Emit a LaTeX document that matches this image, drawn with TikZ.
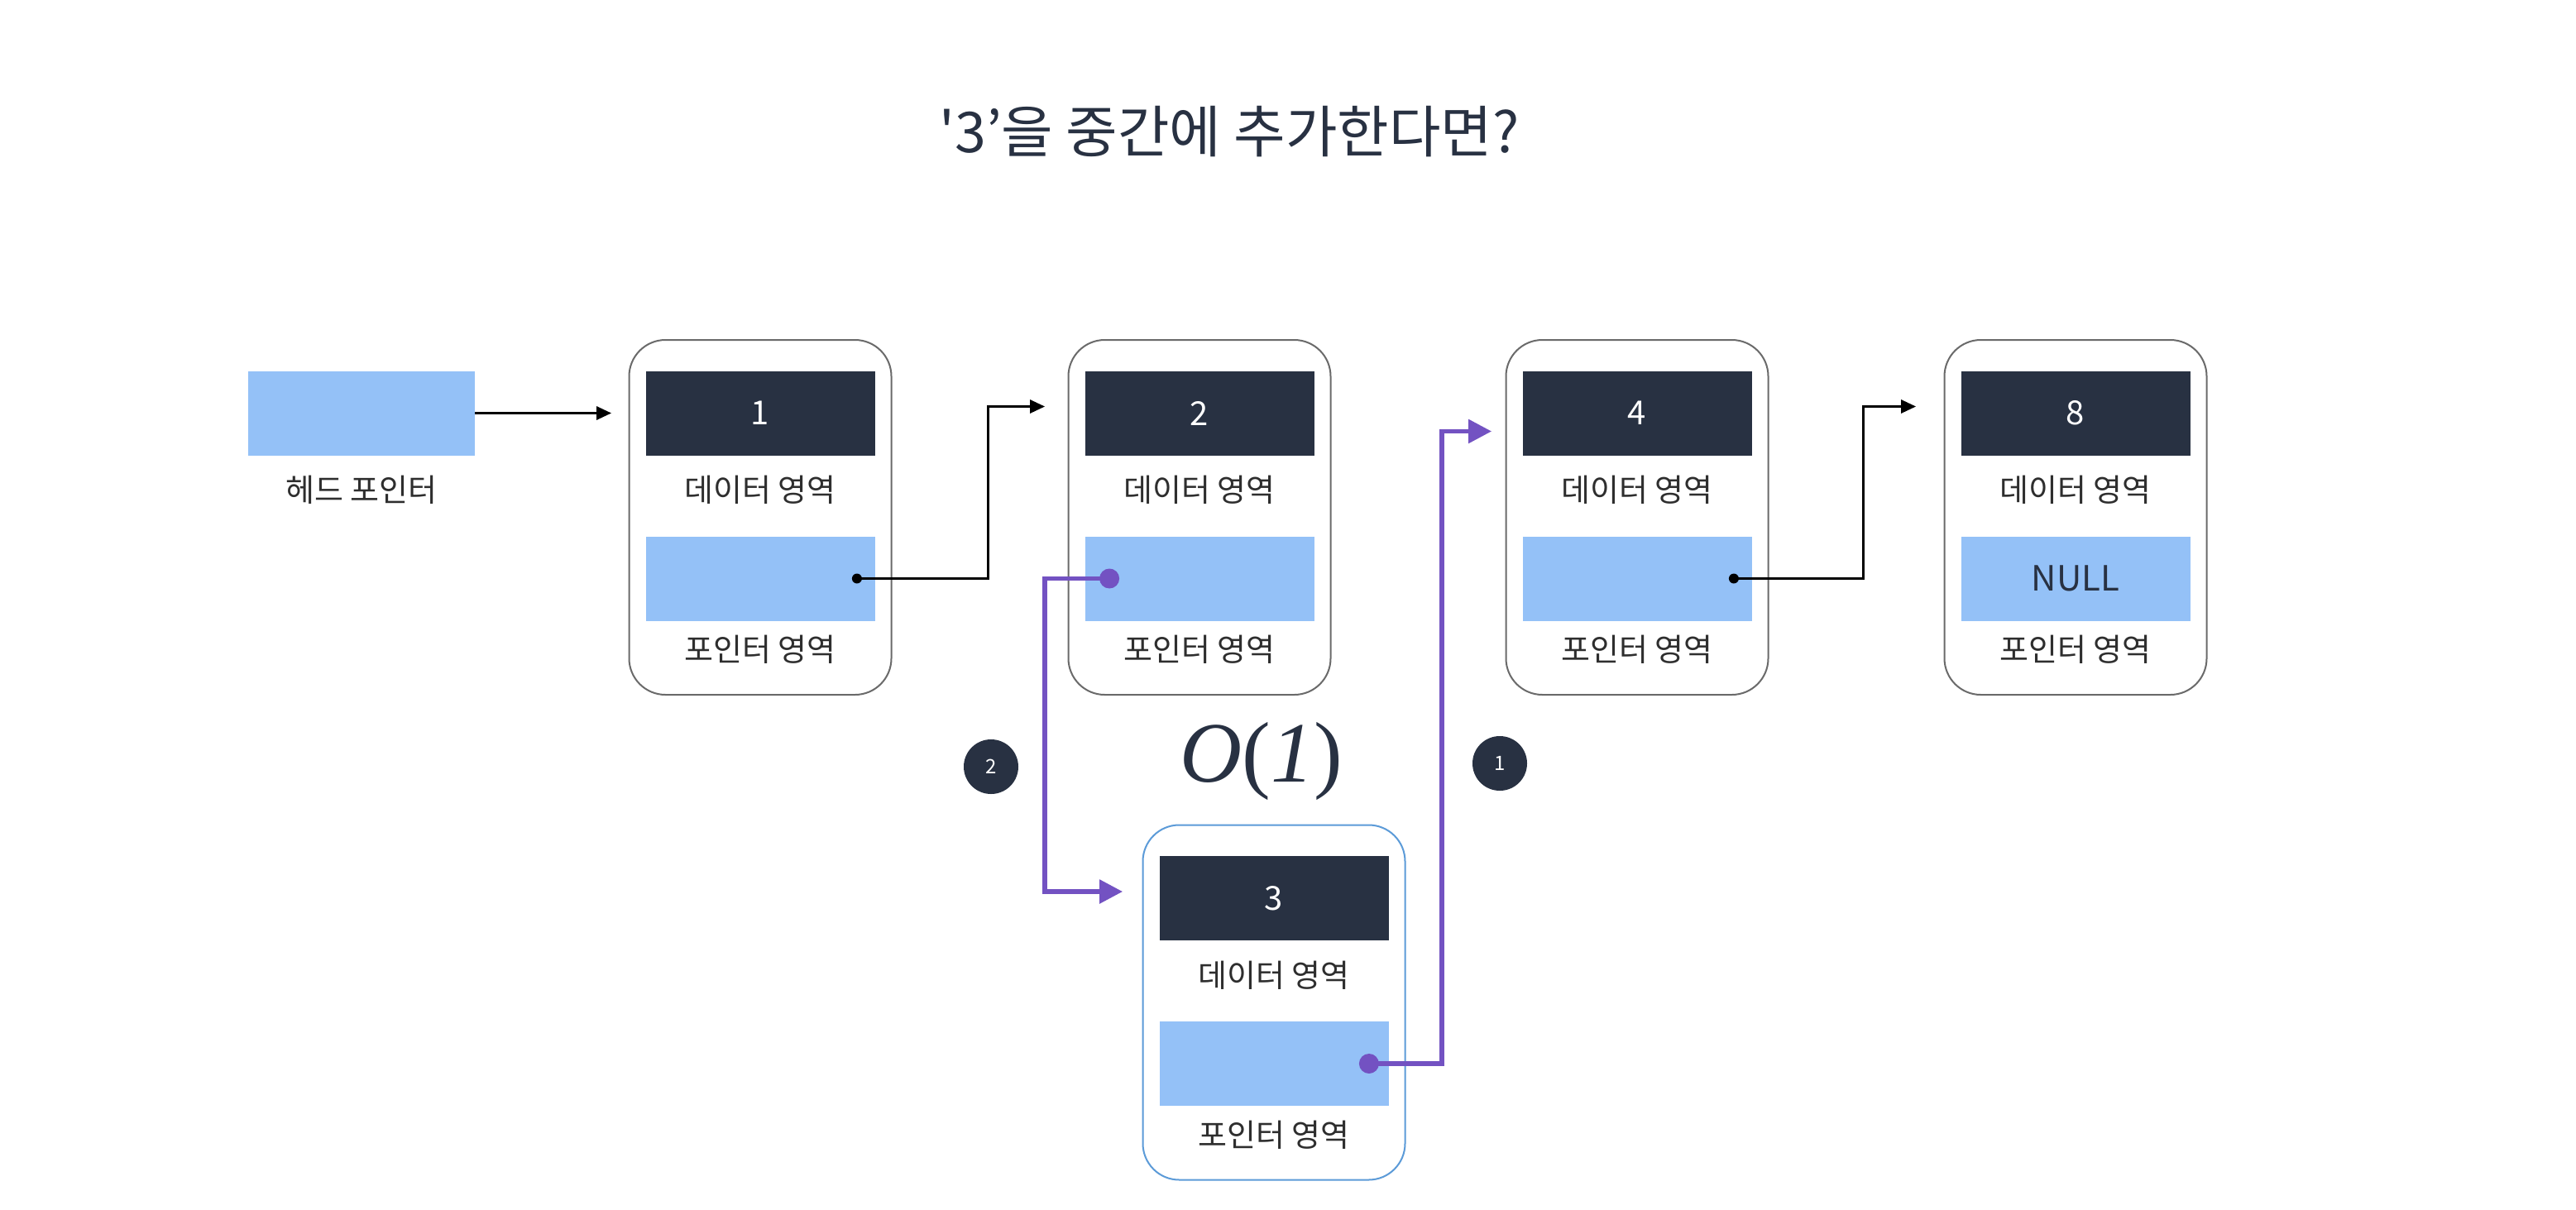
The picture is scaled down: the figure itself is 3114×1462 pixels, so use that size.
\documentclass[tikz,border=0pt]{standalone}
\usepackage{fontspec}
\setmainfont{Noto Sans CJK KR}
\newfontfamily\serifit{Liberation Serif}
\usetikzlibrary{calc,arrows.meta}
\definecolor{navy}{HTML}{283142}
\definecolor{lightblue}{HTML}{94C1F7}
\definecolor{purp}{HTML}{7352C2}
\definecolor{cardgray}{HTML}{6A6A6A}
\definecolor{cardblue}{HTML}{5C9BD8}
\definecolor{labelgray}{HTML}{2E2E2E}
\newcommand\mkcard[6]{%
  \node[#6] (c#1) at (#2,#3) {};
  \node[databox] (d#1) at (#2,#3-126) {#4};
  \node[lbl] (dl#1) at (#2,#3-33) {데이터 영역};
  \node[ptrbox] (p#1) at (#2,#3+74) {#5};
  \node[lbl] (pl#1) at (#2,#3+160) {포인터 영역};
}
\begin{document}
\begin{tikzpicture}[x=0.5pt,y=-0.5pt,
  card/.style={draw=cardgray,line width=1pt,rounded corners=22pt,minimum width=158.5pt,minimum height=214.5pt,inner sep=0pt},
  newcard/.style={card,draw=cardblue},
  databox/.style={fill=navy,minimum width=138.5pt,minimum height=51pt,inner sep=0pt,text=white,font=\fontsize{20}{24}\selectfont},
  ptrbox/.style={fill=lightblue,minimum width=138.5pt,minimum height=51pt,inner sep=0pt,text=navy,font=\fontsize{21}{24}\selectfont},
  lbl/.style={text=labelgray,font=\fontsize{19}{22}\selectfont,inner sep=0pt},
  blk/.style={line width=1.5pt,-{Triangle[length=9pt,width=8pt]}},
  pur/.style={draw=purp,line width=2.8pt,-{Triangle[length=14pt,width=14pt]}},
  badge/.style={circle,fill=navy,minimum size=33pt,inner sep=0pt,text=white,font=\fontsize{12}{14}\selectfont}
]
\useasboundingbox (0,0) rectangle (3114,1462);
\fill[white] (0,0) rectangle (3114,1462);

\node[text=navy,font=\fontsize{34}{40}\selectfont] (title) at (1486,159) {\textquotesingle 3’을 중간에 추가한다면?};

\node[fill=lightblue,minimum width=137pt,minimum height=51pt,inner sep=0pt] (head) at (437,499.5) {};
\node[lbl] (headl) at (437,592) {헤드 포인터};

\mkcard{1}{919}{625.5}{1}{}{card}
\mkcard{2}{1450}{625.5}{2}{}{card}
\mkcard{4}{1979}{625.5}{4}{}{card}
\mkcard{5}{2509}{625.5}{8}{NULL}{card}
\mkcard{3}{1540}{1212}{3}{}{newcard}

\coordinate (in1) at ($(d1.west)+(-41,0)$);
\coordinate (dt1) at ($(p1.east)+(-22,0)$);
\coordinate (in2) at ($(d2.west)+(-48,-8)$);
\coordinate (pd2) at ($(p2.west)+(30,0)$);
\coordinate (in3) at ($(d3.west)+(-44,-8)$);
\coordinate (pd3) at ($(p3.east)+(-24,0)$);
\coordinate (in4) at ($(d4.west)+(-37,22)$);
\coordinate (dt4) at ($(p4.east)+(-22,0)$);
\coordinate (in5) at ($(d5.west)+(-54,-8)$);

\draw[blk] (head.east) -- (in1);
\draw[blk] (dt1) -- ++(159,0) |- (in2);
\draw[blk] (dt4) -- ++(157,0) |- (in5);
\draw[pur] (pd2) -- ++(-78,0) |- (in3);
\draw[pur] (pd3) -- ++(88,0) |- (in4);

\fill[black] (dt1) circle (3pt);
\fill[black] (dt4) circle (3pt);
\fill[purp] (pd2) circle (6pt);
\fill[purp] (pd3) circle (6pt);

\node[badge] (b2) at (1198,927) {2};
\node[badge] (b1) at (1813,923) {1};
\node[text=navy,font=\serifit\fontsize{52}{60}\selectfont] (big) at (1525,920) {\textit{O}(\textit{1})};
\end{tikzpicture}
\end{document}
